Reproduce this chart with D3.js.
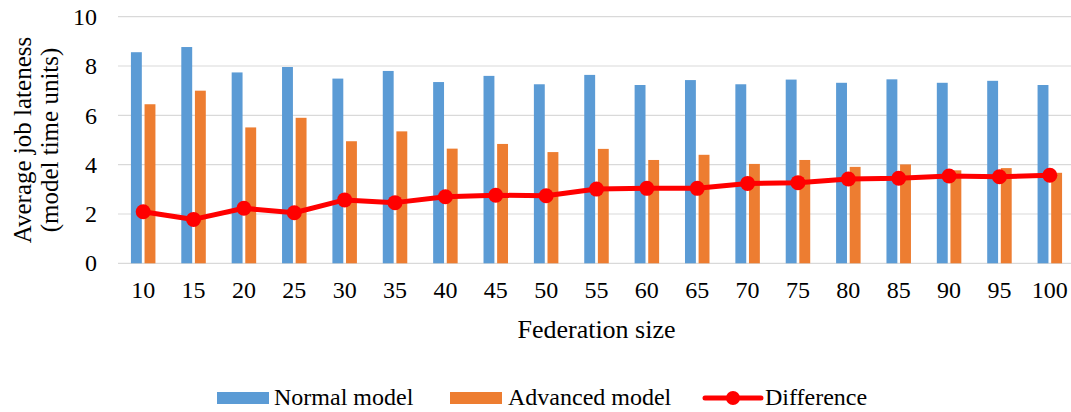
<!DOCTYPE html>
<html>
<head>
<meta charset="utf-8">
<script src="https://cdn.jsdelivr.net/npm/d3@7"></script>
<style>
  html, body { margin: 0; padding: 0; background: #fff; }
  svg { display: block; }
</style>
</head>
<body>
<svg id="chart" width="1071" height="412" font-family="Liberation Serif"></svg>
<script>
// Federation sizes along the category axis
const categories = [10, 15, 20, 25, 30, 35, 40, 45, 50, 55, 60, 65, 70, 75, 80, 85, 90, 95, 100];

// Average job lateness (model time units)
const normalModel   = [8.56, 8.77, 7.74, 7.96, 7.49, 7.80, 7.35, 7.60, 7.26, 7.64, 7.23, 7.43, 7.26, 7.45, 7.32, 7.46, 7.32, 7.40, 7.23];
const advancedModel = [6.45, 7.00, 5.51, 5.90, 4.95, 5.35, 4.65, 4.84, 4.51, 4.64, 4.19, 4.40, 4.03, 4.19, 3.91, 4.01, 3.77, 3.86, 3.67];
const difference    = [2.09, 1.78, 2.23, 2.05, 2.57, 2.46, 2.70, 2.76, 2.74, 3.01, 3.04, 3.04, 3.24, 3.27, 3.42, 3.45, 3.54, 3.51, 3.57];

const yTicks = [0, 2, 4, 6, 8, 10];
const colors = { "Normal model": "#5B9BD5", "Advanced model": "#ED7D31", "Difference": "#FF0000" };
const FONT = "Liberation Serif";

const svg = d3.select("#chart");

// Apply the serif face to a text selection
const serif = sel => sel.attr("font-family", FONT).style("font-family", `"${FONT}"`);

const plot = { left: 118, right: 1075, top: 16.7, bottom: 263.3 };

const x = d3.scaleBand().domain(categories).range([plot.left, plot.right]).padding(0);
const bw = x.bandwidth();
const cluster = 24.5;
const x1 = d3.scaleBand()
  .domain(["Normal model", "Advanced model"])
  .range([bw / 2 - cluster / 2, bw / 2 + cluster / 2])
  .paddingInner(0.2);

const y = d3.scaleLinear().domain([0, 10]).range([plot.bottom, plot.top]);

// Horizontal gridlines
svg.append("g")
  .selectAll("line")
  .data(yTicks)
  .join("line")
  .attr("x1", plot.left)
  .attr("x2", plot.right)
  .attr("y1", d => y(d))
  .attr("y2", d => y(d))
  .attr("stroke", "#D9D9D9")
  .attr("stroke-width", 1.2);

// Y axis labels
const yAxis = d3.axisLeft(y).tickValues(yTicks).tickSize(0).tickPadding(21);
svg.append("g")
  .attr("transform", `translate(${plot.left},0)`)
  .call(yAxis)
  .call(serif)
  .attr("font-size", 24)
  .call(g => g.select(".domain").remove())
  .call(g => g.selectAll("text")
    .call(serif)
    .attr("font-size", 24)
    .attr("fill", "#000"));

// X axis labels
const xAxis = d3.axisBottom(x).tickSize(0).tickPadding(0);
svg.append("g")
  .attr("transform", `translate(0,${plot.bottom})`)
  .call(xAxis)
  .call(serif)
  .attr("font-size", 24)
  .call(g => g.select(".domain").remove())
  .call(g => g.selectAll("text")
    .attr("dy", null)
    .attr("y", 35)
    .call(serif)
    .attr("font-size", 24)
    .attr("fill", "#000"));

// Clustered bars
const barData = categories.map((c, i) => ({
  cat: c,
  vals: [
    { key: "Normal model", v: normalModel[i] },
    { key: "Advanced model", v: advancedModel[i] }
  ]
}));

svg.append("g")
  .selectAll("g")
  .data(barData)
  .join("g")
  .attr("transform", d => `translate(${x(d.cat)},0)`)
  .selectAll("rect")
  .data(d => d.vals)
  .join("rect")
  .attr("x", d => x1(d.key))
  .attr("width", x1.bandwidth())
  .attr("y", d => y(d.v))
  .attr("height", d => y(0) - y(d.v))
  .attr("fill", d => colors[d.key]);

// Difference line with markers
const lineData = categories.map((c, i) => ({ cat: c, v: difference[i] }));
const line = d3.line()
  .x(d => x(d.cat) + bw / 2)
  .y(d => y(d.v));

svg.append("path")
  .datum(lineData)
  .attr("d", line)
  .attr("fill", "none")
  .attr("stroke", colors["Difference"])
  .attr("stroke-width", 5)
  .attr("stroke-linejoin", "round")
  .attr("stroke-linecap", "round");

svg.append("g")
  .selectAll("circle")
  .data(lineData)
  .join("circle")
  .attr("cx", d => x(d.cat) + bw / 2)
  .attr("cy", d => y(d.v))
  .attr("r", 7.5)
  .attr("fill", colors["Difference"]);

// Axis titles
svg.append("text")
  .attr("x", (plot.left + plot.right) / 2)
  .attr("y", 338)
  .attr("text-anchor", "middle")
  .call(serif)
  .attr("font-size", 26)
  .attr("fill", "#000")
  .text("Federation size");

const yTitle = svg.append("text")
  .attr("transform", `translate(0,${(plot.top + plot.bottom) / 2}) rotate(-90)`)
  .attr("text-anchor", "middle")
  .call(serif)
  .attr("font-size", 25)
  .attr("fill", "#000");
yTitle.append("tspan").attr("x", 0).attr("y", 31).call(serif).text("Average job lateness");
yTitle.append("tspan").attr("x", 0).attr("y", 58).call(serif).text("(model time units)");

// Legend
const legendItems = [
  { key: "Normal model", sx: 217, tx: 274 },
  { key: "Advanced model", sx: 450, tx: 508 },
  { key: "Difference", sx: 705, tx: 765 }
];
const legend = svg.append("g");
legendItems.forEach(it => {
  if (it.key === "Difference") {
    legend.append("line")
      .attr("x1", it.sx).attr("x2", it.sx + 56)
      .attr("y1", 398).attr("y2", 398)
      .attr("stroke", colors[it.key])
      .attr("stroke-width", 5)
      .attr("stroke-linecap", "round");
    legend.append("circle")
      .attr("cx", it.sx + 28).attr("cy", 398).attr("r", 7)
      .attr("fill", colors[it.key]);
  } else {
    legend.append("rect")
      .attr("x", it.sx).attr("y", 392)
      .attr("width", 52).attr("height", 12)
      .attr("fill", colors[it.key]);
  }
  legend.append("text")
    .attr("x", it.tx).attr("y", 405)
    .call(serif)
    .attr("font-size", 24)
    .attr("fill", "#000")
    .text(it.key);
});
</script>
</body>
</html>
